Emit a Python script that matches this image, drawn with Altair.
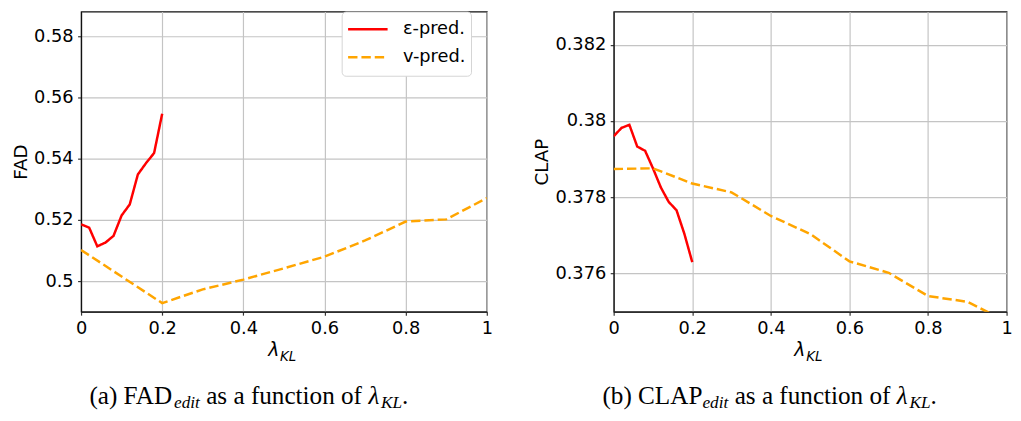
import altair as alt
import pandas as pd

# ---------------- data ----------------
series = ["ε-pred.", "v-pred."]
lam_eps = [0.0, 0.02, 0.04, 0.06, 0.08, 0.10, 0.12, 0.14, 0.16, 0.18, 0.20]
lam_v = [0.0, 0.1, 0.2, 0.3, 0.4, 0.5, 0.6, 0.7, 0.8, 0.9, 1.0]

fad_eps = [0.5186, 0.5175, 0.5114, 0.5126, 0.5148, 0.5215, 0.5251, 0.5349, 0.5386, 0.5419, 0.5548]
fad_v = [0.5102, 0.5015, 0.4928, 0.4973, 0.5005, 0.5042, 0.5080, 0.5133, 0.5195, 0.5202, 0.5272]

clap_eps = [0.37960, 0.37982, 0.37990, 0.37933, 0.37922, 0.37876, 0.37826, 0.37788, 0.37766, 0.37704, 0.37630]
clap_v = [0.37874, 0.37876, 0.37836, 0.37813, 0.37751, 0.37704, 0.37632, 0.37602, 0.37541, 0.37526, 0.37474]

x_ticks = [0, 0.2, 0.4, 0.6, 0.8, 1.0]
fad_ticks = [0.50, 0.52, 0.54, 0.56, 0.58]
clap_ticks = [0.376, 0.378, 0.380, 0.382]


def frame(eps, v):
    return pd.DataFrame({
        "lam": lam_eps + lam_v,
        "val": eps + v,
        "series": [series[0]] * len(lam_eps) + [series[1]] * len(lam_v),
    })


# ---------------- helpers ----------------
SERIF = "Liberation Serif"
SANS = "DejaVu Sans, Verdana, sans-serif"

TIMES = {'(': 333, ')': 333, 'a': 444, 'b': 500, ' ': 250, 'F': 556, 'A': 722, 'D': 722,
         'C': 667, 'L': 611, 'P': 556, 's': 389, 'f': 333, 'u': 500, 'n': 500, 'c': 444,
         't': 278, 'i': 278, 'o': 500, '.': 250}
TIMES_IT = {'e': 444, 'd': 500, 'i': 278, 't': 278, 'K': 667, 'L': 556, 'λ': 500}


def tw(s, size, italic=False):
    tab = TIMES_IT if italic else TIMES
    return sum(tab.get(ch, 500) for ch in s) / 1000.0 * size


def txt(s, x, y, size, font, italic=False, align="left"):
    return alt.Chart(pd.DataFrame({"t": [s]})).mark_text(
        text=s, align=align, baseline="alphabetic", font=font, fontSize=size,
        fontStyle="italic" if italic else "normal", color="black",
    ).encode(x=alt.value(x), y=alt.value(y))


def caption(head, cx, y):
    F = 25.5
    S = 17.5
    sp = tw(" ", F)
    # (text, size, italic, baseline shift, extra space after)
    segs = [(head, F, False, 0, 0), ("edit", S, True, 4, sp),
            ("as a function of", F, False, 0, sp), ("λ", F, True, 0, 0),
            ("KL", S, True, 4, 0), (".", F, False, 0, 0)]
    total = sum(tw(s, sz, it) + extra for s, sz, it, _, extra in segs)
    x = cx - total / 2
    layers = []
    for s, sz, it, dy, extra in segs:
        layers.append(txt(s, x, y + dy, sz, SERIF, it))
        x += tw(s, sz, it) + extra
    return layers


def xtitle(cx, y):
    return [txt("λ", cx - 16, y, 19, SANS, True),
            txt("KL", cx - 4, y + 4.5, 13.5, SANS, True)]


def panel(df, ydom, yticks, yfmt, ytitle, yext, w, h, lx, ly, cap_head, cap_cx):
    leg = alt.Legend(
        orient="none", legendX=lx, legendY=ly, title=None,
        symbolType="stroke", symbolSize=1600, symbolStrokeWidth=2.5,
        labelFont=SANS, labelFontSize=18, labelColor="black", labelOffset=14,
        padding=5, strokeColor="#d4d4d4", fillColor="white", cornerRadius=4,
        clipHeight=26, rowPadding=2.3,
    )
    lines = alt.Chart(df).mark_line(clip=True, strokeWidth=2.5).encode(
        x=alt.X("lam:Q", scale=alt.Scale(domain=[0, 1], nice=False, zero=False),
                axis=alt.Axis(values=x_ticks, format=".1~f", title=None, labelFlush=False)),
        y=alt.Y("val:Q", scale=alt.Scale(domain=ydom, nice=False, zero=False),
                axis=alt.Axis(values=yticks, format=yfmt, title=ytitle,
                              minExtent=yext, maxExtent=yext)),
        color=alt.Color("series:N", scale=alt.Scale(domain=series, range=["#ff0000", "#ffa500"]),
                        legend=leg),
        strokeDash=alt.StrokeDash("series:N", scale=alt.Scale(domain=series, range=[[1, 0], [9.5, 4]]),
                                  legend=leg),
    )
    layers = [lines] + xtitle(w / 2, 349) + caption(cap_head, cap_cx, 398)
    return alt.layer(*layers).properties(width=w, height=h)


left = panel(frame(fad_eps, fad_v), [0.49, 0.5882], fad_ticks, ".2~f", "FAD", 47.5,
             411, 304, 264, 0, "(a) FAD", 170)
right = panel(frame(clap_eps, clap_v), [0.375, 0.38287], clap_ticks, ".3~f", "CLAP", 59.5,
              398, 304, 253, 0, "(b) CLAP", 158)

chart = alt.hconcat(left, right, spacing=37.5).configure(
    padding={"left": 2, "top": 0, "right": 0, "bottom": -3},
    background="white",
).configure_view(
    stroke="#111111", strokeWidth=1.2,
).configure_axis(
    domainColor="#111111", domainWidth=1.2,
    tickColor="#333333", tickSize=3.5, tickWidth=1.2,
    labelFont=SANS, labelFontSize=18, labelColor="black", labelPadding=4.5,
    titleFont=SANS, titleFontSize=18.5, titleFontWeight="normal", titleColor="black",
    titlePadding=4,
    gridColor="#c4c4c4", gridWidth=1.2,
)

chart.save("out.html", embed_options={"renderer": "svg", "actions": False})
